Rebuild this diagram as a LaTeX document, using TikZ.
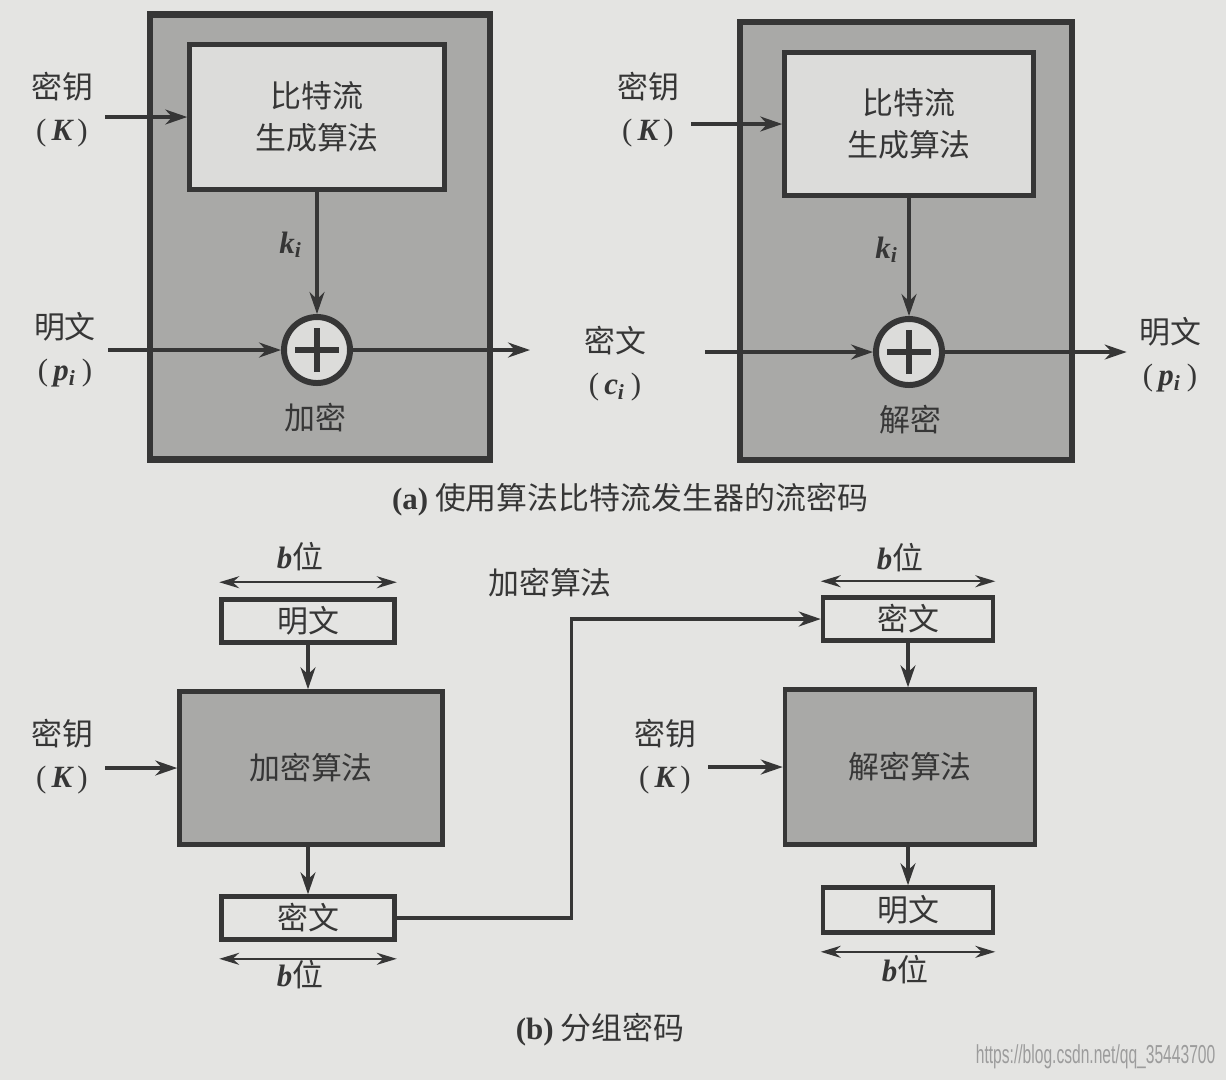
\documentclass[tikz,border=0pt]{standalone}
\usepackage{fontspec}
\setmainfont{Noto Sans CJK SC}
\newfontfamily\latfont{Liberation Serif}
\newfontfamily\urlfont{Liberation Sans}
\usetikzlibrary{positioning,calc,arrows.meta}

\definecolor{paper}{HTML}{E4E4E2}
\definecolor{ink}{HTML}{363636}
\definecolor{shade}{HTML}{A9A9A7}
\definecolor{pale}{HTML}{DCDCDA}
\definecolor{markgray}{HTML}{9C9C9C}

\newcommand{\vv}[1]{{\latfont\bfseries\itshape #1}}
\newcommand{\vsub}[2]{\vv{#1}\textsubscript{\vv{#2}}}
\newcommand{\paren}[1]{{\latfont(}\,#1\,{\latfont)}}

\begin{document}
\begin{tikzpicture}[
	x=0.1mm,y=-0.1mm,
	font=\fontsize{8.8}{12}\selectfont,text=ink,
	outer/.style={draw=ink,line width=1.8pt,fill=shade,inner sep=0},
	gen/.style={draw=ink,line width=1.3pt,fill=pale,align=center},
	algo/.style={draw=ink,line width=1.3pt,fill=shade},
	blk/.style={draw=ink,line width=1.3pt,fill=paper,minimum width=17.3mm,minimum height=4.3mm,inner sep=0},
	xor/.style={circle,draw=ink,line width=1.7pt,fill=pale,minimum size=6.6mm,inner sep=0,
		path picture={\draw[line width=1.6pt]
			([xshift=-2.2mm]path picture bounding box.center) -- ([xshift=2.2mm]path picture bounding box.center)
			([yshift=-2.2mm]path picture bounding box.center) -- ([yshift=2.2mm]path picture bounding box.center);}},
	lbl/.style={align=center},
	arr/.style={draw=ink,line width=0.9pt,-{Stealth[length=2.2mm,width=1.5mm]}},
	darr/.style={draw=ink,line width=0.7pt,{Stealth[length=2mm,width=1.2mm]}-{Stealth[length=2mm,width=1.2mm]}},
]
\fill[paper] (0,0) rectangle (1226,1080);
\useasboundingbox (0,0) rectangle (1226,1080);

% (a) stream cipher, encryption side
\node[outer,minimum width=34mm,minimum height=44.5mm] (encBox) at (320,237) {};
\node[gen,minimum width=25.5mm,minimum height=14.5mm] (genA) at (317,117) {比特流\\生成算法};
\node[xor] (xorA) at (317,350) {};
\node[lbl] (keyA) at (62,110) {密钥\\\paren{\vv{K}}};
\node[lbl] (ptA) at (65,350) {明文\\\paren{\vsub{p}{i}}};
\node (kiA) at (291,245) {\vsub{k}{i}};
\node (encA) at (315,418) {加密};
\coordinate (outA) at (530,350);
\draw[arr] (keyA.east |- genA) -- (genA.west);
\draw[arr] (genA) -- (xorA);
\draw[arr] (ptA.east |- xorA) -- (xorA.west);
\draw[arr] (xorA.east) -- (outA);

% (a) decryption side
\node[outer,minimum width=33.2mm,minimum height=43.8mm] (decBox) at (906,241) {};
\node[gen,minimum width=24.9mm,minimum height=14.3mm] (genB) at (909,124) {比特流\\生成算法};
\node[xor] (xorB) at (909,352) {};
\node[lbl] (keyB) at (648,110) {密钥\\\paren{\vv{K}}};
\node[lbl] (ctA) at (615,364) {密文\\\paren{\vsub{c}{i}}};
\node (kiB) at (887,250) {\vsub{k}{i}};
\node (decA) at (910,420) {解密};
\node[lbl] (ptB) at (1170,355) {明文\\\paren{\vsub{p}{i}}};
\coordinate (inB) at (705,352);
\draw[arr] (keyB.east |- genB) -- (genB.west);
\draw[arr] (genB) -- (xorB);
\draw[arr] (inB) -- (xorB.west);
\draw[arr] (xorB.east) -- (ptB.west |- xorB);

\node (capA) at (630,500) {{\latfont\bfseries(a)}\ 使用算法比特流发生器的流密码};

% (b) block cipher
\node[blk] (ptBoxA) at (308,621) {明文};
\node[algo,minimum width=26.3mm,minimum height=15.3mm] (encAlg) at (311,768) {加密算法};
\node[blk] (ctBoxA) at (308,918) {密文};
\node[lbl] (keyC) at (62,757) {密钥\\\paren{\vv{K}}};
\node (encTitle) at (550,583) {加密算法};
\node (bA1) at (300,557) {\vv{b}位};
\node (bA2) at (300,975) {\vv{b}位};
\draw[darr] ([yshift=1.5mm]ptBoxA.north west) -- ([yshift=1.5mm]ptBoxA.north east);
\draw[darr] ([yshift=-1.7mm]ctBoxA.south west) -- ([yshift=-1.7mm]ctBoxA.south east);
\draw[arr] (ptBoxA.south) -- (ptBoxA.south |- encAlg.north);
\draw[arr] (encAlg.south -| ctBoxA) -- (ctBoxA.north);
\draw[arr] (keyC.east |- encAlg) -- (encAlg.west);

\node[blk,minimum width=17mm] (ctBoxB) at (908,619) {密文};
\node[algo,minimum width=25mm,minimum height=15.5mm] (decAlg) at (910,767) {解密算法};
\node[blk,minimum width=17mm,minimum height=4.5mm] (ptBoxB) at (908,910) {明文};
\node[lbl] (keyD) at (665,757) {密钥\\\paren{\vv{K}}};
\node (bB1) at (900,558) {\vv{b}位};
\node (bB2) at (905,970) {\vv{b}位};
\draw[darr] ([yshift=1.4mm]ctBoxB.north west) -- ([yshift=1.4mm]ctBoxB.north east);
\draw[darr] ([yshift=-1.7mm]ptBoxB.south west) -- ([yshift=-1.7mm]ptBoxB.south east);
\draw[arr] (ctBoxB.south) -- (ctBoxB.south |- decAlg.north);
\draw[arr] (decAlg.south -| ptBoxB) -- (ptBoxB.north);
\draw[arr] (keyD.east |- decAlg) -- (decAlg.west);
\draw[arr] (ctBoxA.east) -- ++(175,0) |- (ctBoxB.west);

\node (capB) at (600,1030) {{\latfont\bfseries(b)}\ 分组密码};
\node[text=markgray,font=\urlfont\fontsize{7.4}{9}\selectfont,anchor=east,inner sep=0] (mark) at (1216,1057) {\scalebox{0.6}[1]{https://blog.csdn.net/qq\_35443700}};
\end{tikzpicture}
\end{document}
